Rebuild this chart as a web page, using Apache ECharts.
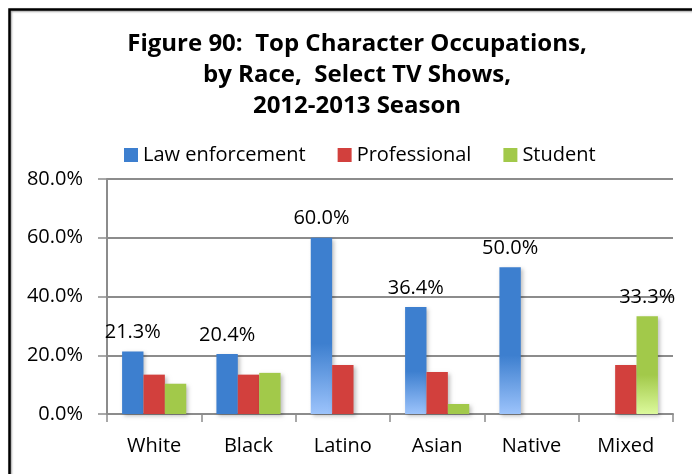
<!DOCTYPE html>
<html>
<head>
<meta charset="utf-8">
<script src="https://cdn.jsdelivr.net/npm/echarts@6/dist/echarts.min.js"></script>
<style>
html,body{margin:0;padding:0;background:#fff;}
#c{width:692px;height:474px;}
</style>
</head>
<body>
<div id="c"></div>
<script>
var titleText = 'Figure 90:  Top Character Occupations,\nby Race,  Select TV Shows,\n2012-2013 Season';
var categories = ['White', 'Black', 'Latino', 'Asian', 'Native', 'Mixed'];
var seriesNames = ['Law enforcement', 'Professional', 'Student'];
var lawEnforcement = [21.3, 20.4, 60.0, 36.4, 50.0, 0];
var professional = [13.4, 13.4, 16.7, 14.3, 0, 16.7];
var student = [10.3, 14.0, 0, 3.4, 0, 33.3];
var yTicks = [0, 20, 40, 60, 80];

// styling config (not data)
var FONT = '"Open Sans"';
var colors = ['#3d7fcf', '#d2403d', '#a2c94a'];
var lightColors = ['#9cc3fb', '#e07070', '#dcf99c'];
var gradientItems = [[2, 3, 4], [], [5]];      // category indexes with bottom fade
var labelItems = [[0, 1, 2, 3, 4], [], [5]];   // category indexes with value labels

function fade(c, light) {
  return new echarts.graphic.LinearGradient(0, 0, 0, 1, [
    {offset: 0, color: c}, {offset: 0.6, color: c}, {offset: 1, color: light}
  ]);
}

function buildData(values, si) {
  return values.map(function (v, i) {
    var o = {value: v};
    if (gradientItems[si].indexOf(i) >= 0) {
      o.itemStyle = {color: fade(colors[si], lightColors[si])};
    }
    o.label = {show: labelItems[si].indexOf(i) >= 0};
    return o;
  });
}

var allSeries = [lawEnforcement, professional, student].map(function (vals, si) {
  return {
    name: seriesNames[si],
    type: 'bar',
    barGap: '0%',
    barCategoryGap: '32%',
    itemStyle: {
      color: colors[si],
      shadowColor: 'rgba(0,0,0,0.25)',
      shadowBlur: 4,
      shadowOffsetX: 2,
      shadowOffsetY: 2
    },
    label: {
      position: 'top',
      distance: 9,
      fontFamily: FONT,
      fontSize: 20,
      color: '#000',
      formatter: function (p) { return p.value.toFixed(1) + '%'; }
    },
    data: buildData(vals, si)
  };
});

var chart = echarts.init(document.getElementById('c'));
chart.setOption({
  animation: false,
  backgroundColor: '#fff',
  title: {
    text: titleText,
    left: 352,
    top: 24,
    textAlign: 'center',
    textStyle: {
      fontFamily: FONT,
      fontWeight: 'bold',
      fontSize: 24,
      lineHeight: 31,
      color: '#000'
    }
  },
  legend: {
    data: seriesNames,
    left: 119,
    top: 140,
    itemWidth: 14,
    itemHeight: 14,
    itemGap: 32,
    icon: 'rect',
    textStyle: {fontFamily: FONT, fontSize: 20, color: '#000', padding: [0, 0, 0, 0]}
  },
  grid: {left: 107, right: 19, top: 179, bottom: 60, containLabel: false},
  xAxis: {
    type: 'category',
    data: categories,
    axisLine: {lineStyle: {color: '#8c8c8c', width: 2}},
    axisTick: {show: true, length: 8, lineStyle: {color: '#8c8c8c', width: 1.5}},
    axisLabel: {fontFamily: FONT, fontSize: 20, color: '#000', margin: 22}
  },
  yAxis: {
    type: 'value',
    min: yTicks[0],
    max: yTicks[yTicks.length - 1],
    interval: 20,
    axisLine: {show: true, lineStyle: {color: '#8c8c8c', width: 2}},
    axisTick: {show: true, length: 9, lineStyle: {color: '#8c8c8c', width: 1.5}},
    splitLine: {lineStyle: {color: '#8c8c8c', width: 2}},
    axisLabel: {
      fontFamily: FONT, fontSize: 20, color: '#000', margin: 24,
      formatter: function (v) { return v.toFixed(1) + '%'; }
    }
  },
  graphic: [{
    type: 'polyline',
    shape: {points: [[9.5, 480], [9.5, 9.5], [700, 9.5]]},
    style: {stroke: '#000', lineWidth: 2.5, fill: null,
            shadowColor: 'rgba(0,0,0,0.4)', shadowBlur: 2, shadowOffsetX: 1, shadowOffsetY: 1},
    z: 100
  }],
  series: allSeries
});
</script>
</body>
</html>
